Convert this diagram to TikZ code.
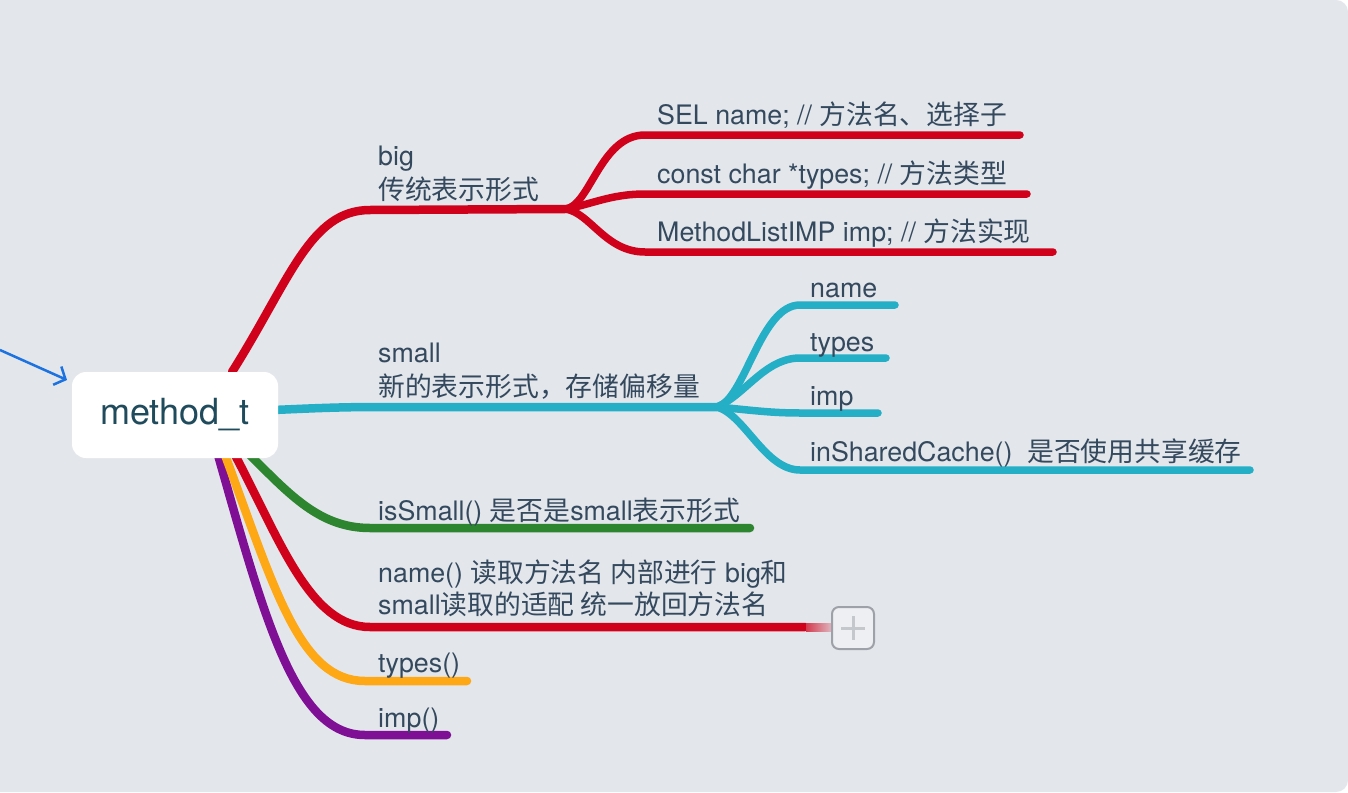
\documentclass[tikz,border=0pt]{standalone}
\usepackage{fontspec}
\setmainfont{TeX Gyre Heros}
\newfontfamily\cjkf{Noto Sans CJK SC}
\newcommand\zh[1]{{\cjkf #1}}
\usetikzlibrary{arrows.meta}
\definecolor{bgc}{HTML}{E3E6EB}
\definecolor{txt}{HTML}{34495E}
\definecolor{rootc}{HTML}{1F4B5C}
\definecolor{redb}{HTML}{D0021B}
\definecolor{cyanb}{HTML}{24AFC7}
\definecolor{greenb}{HTML}{2E8530}
\definecolor{orangeb}{HTML}{FDA814}
\definecolor{purpleb}{HTML}{7F0F94}
\definecolor{arrowc}{HTML}{1C72E0}
\definecolor{btnb}{HTML}{9EA2A8}
\definecolor{btnf}{HTML}{EDEFF2}
\definecolor{plusc}{HTML}{C4C7CB}
\tikzset{
 lbl/.style={anchor=base west, inner sep=0pt, text=txt, font=\fontsize{26.8}{32}\selectfont},
 br/.style={line width=8.5pt, line cap=round},
 subbr/.style={line width=7.5pt, line cap=round},
}
\begin{document}
\begin{tikzpicture}[x=1pt,y=-1pt]
\useasboundingbox (0,0) rectangle (1348,792);
\clip (0,0) rectangle (1348,792);
\fill[white] (0,0) rectangle (1348,792);
\fill[bgc, rounded corners=12pt] (-30,0) rectangle (1348,792);

% coordinates
\coordinate (sBig) at (232,372);
\coordinate (hBig) at (370,210);
\coordinate (jBig) at (565,209);
\coordinate (eSel) at (1020,135);
\coordinate (eConst) at (1027,194);
\coordinate (eMeth) at (1053,252);
\coordinate (sSmall) at (250,411);
\coordinate (jSmall) at (717,407);
\coordinate (eName) at (895,305);
\coordinate (eTypes) at (886,358);
\coordinate (eImp) at (878,413);
\coordinate (eShared) at (1250,470);
\coordinate (sGreen) at (250,455);
\coordinate (eGreen) at (750,528);
\coordinate (sRed) at (235,455);
\coordinate (eRed) at (805,627);
\coordinate (sOrange) at (225,455);
\coordinate (eOrange) at (467,681);
\coordinate (sPurple) at (218,455);
\coordinate (ePurple) at (447,735);
\coordinate (aS) at (0,350);
\coordinate (aE) at (67,380);

% level-2 red
\draw[subbr, redb] (jBig) .. controls (590,207) and (600,135) .. (645,135) -- (eSel);
\draw[subbr, redb] (jBig) .. controls (590,205) and (610,194) .. (645,194) -- (eConst);
\draw[subbr, redb] (jBig) .. controls (590,212) and (605,252) .. (645,252) -- (eMeth);
% level-2 cyan
\draw[subbr, cyanb] (jSmall) .. controls (745,400) and (760,305) .. (800,305) -- (eName);
\draw[subbr, cyanb] (jSmall) .. controls (745,395) and (765,358) .. (800,358) -- (eTypes);
\draw[subbr, cyanb] (jSmall) .. controls (750,410) and (770,413) .. (800,413) -- (eImp);
\draw[subbr, cyanb] (jSmall) .. controls (745,415) and (765,470) .. (800,470) -- (eShared);

% level-1
\draw[br, redb] (sBig) .. controls (290,280) and (310,210) .. (hBig) -- (jBig);
\draw[br, cyanb] (sSmall) .. controls (300,409) and (330,407) .. (380,407) -- (jSmall);
\draw[br, purpleb] (sPurple) .. controls (265,620) and (295,735) .. (365,735) -- (ePurple);
\draw[br, orangeb] (sOrange) .. controls (275,590) and (300,681) .. (365,681) -- (eOrange);
\draw[br, redb] (sRed) .. controls (280,540) and (310,627) .. (370,627) -- (eRed);
\draw[br, greenb] (sGreen) .. controls (290,495) and (320,528) .. (370,528) -- (eGreen);

% collapse button
\shade[left color=redb!75!bgc, right color=redb!18!bgc] (806,623) rectangle (833,631);
\node[draw=btnb, fill=btnf, line width=2pt, rounded corners=7pt, minimum size=42pt, inner sep=0pt] (plus) at (853,628) {};
\draw[plusc, line width=3pt] ([xshift=-12pt]plus.center) -- ([xshift=12pt]plus.center);
\draw[plusc, line width=3pt] ([yshift=-12pt]plus.center) -- ([yshift=12pt]plus.center);

% root
\node[fill=white, rounded corners=14pt, minimum width=206pt, minimum height=86pt, inner sep=0pt, text=rootc, font=\fontsize{36}{40}\selectfont] (root) at (175,415) {method\_t};
\draw[arrowc, line width=2.5pt, -{Straight Barb[length=9pt,width=20pt]}] (aS) -- (aE);

% labels
\node[lbl] (big1) at (378,165) {big};
\node[lbl] (big2) at (378,199) {\zh{传统表示形式}};
\node[lbl] (sel) at (657,124) {SEL name; // \zh{方法名、选择子}};
\node[lbl] (const) at (657,183) {const char *types; // \zh{方法类型}};
\node[lbl] (meth) at (657,241) {MethodListIMP imp; // \zh{方法实现}};
\node[lbl] (small1) at (378,362) {small};
\node[lbl] (small2) at (378,396) {\zh{新的表示形式，存储偏移量}};
\node[lbl] (cname) at (810,297) {name};
\node[lbl] (ctypes) at (810,351) {types};
\node[lbl] (cimp) at (810,405) {imp};
\node[lbl] (cshared) at (810,461) {inSharedCache()\hspace{0.55em}\zh{是否使用共享缓存}};
\node[lbl] (issmall) at (378,520) {isSmall() \zh{是否是}small\zh{表示形式}};
\node[lbl] (name1) at (378,582) {name() \zh{读取方法名 内部进行} big\zh{和}};
\node[lbl] (name2) at (378,614) {small\zh{读取的适配 统一放回方法名}};
\node[lbl] (types) at (378,672) {types()};
\node[lbl] (imp) at (378,727) {imp()};
\end{tikzpicture}
\end{document}
